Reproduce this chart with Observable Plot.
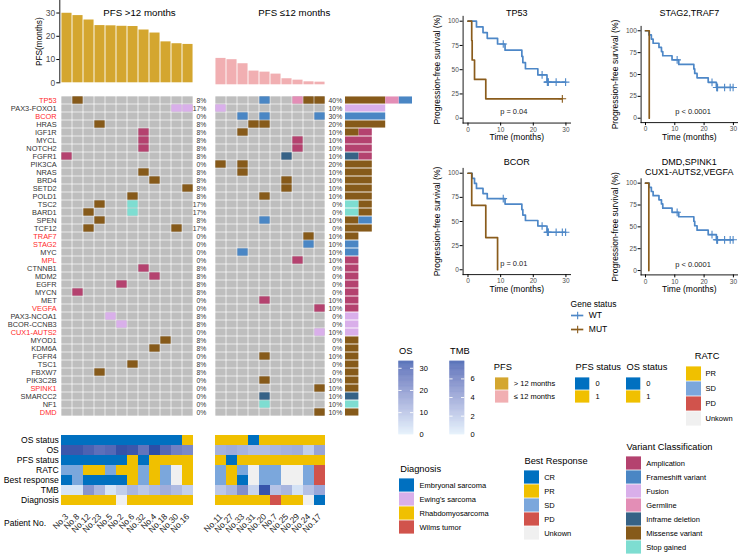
<!DOCTYPE html>
<html>
<head>
<meta charset="utf-8">
<script src="https://cdn.jsdelivr.net/npm/d3@7"></script>
<script src="https://cdn.jsdelivr.net/npm/@observablehq/plot@0.6"></script>
<style>
html,body{margin:0;padding:0;background:#fff;}
#root{position:relative;width:738px;height:557px;overflow:hidden;background:#fff;font-family:'Liberation Sans',Arial,Helvetica,sans-serif;color:#000;}
.t{position:absolute;white-space:nowrap;line-height:1;}
</style>
</head>
<body>
<div id="root"></div>
<script>
// ---------------- DATA ----------------
const patientsL = ["No.3","No.8","No.12","No.23","No.5","No.2","No.6","No.32","No.4","No.18","No.30","No.16"];
const patientsR = ["No.11","No.27","No.33","No.31","No.20","No.7","No.25","No.29","No.24","No.17"];
const pfsL = [29.9,28.9,27.0,24.6,24.5,24.3,24.2,22.7,21.4,17.6,16.8,16.5];
const pfsR = [11.35,10.8,9.06,5.9,5.45,4.6,2.6,2.0,1.28,1.14];
const pfsStatusL = [0,0,0,0,0,0,1,0,1,1,1,1];
const pfsStatusR = [1,0,1,1,1,1,1,1,1,1];
const osStatusL = [0,0,0,0,0,0,0,0,0,0,0,1];
const osStatusR = [1,1,1,0,1,1,1,1,1,1];
const osL = [31,31,28.5,25.5,27,32,31,24.5,33,27,22,20];
const osR = [12,13,11.5,9.5,9.5,11,12,12.5,6,14.5];
const tmbL = [0.5,0.5,4.2,2.6,0.5,1.5,2.6,1.8,2.4,3.0,2.3,1.4];
const tmbR = [1.8,2.6,4.5,1.2,7.5,2.0,2.6,0.6,2.1,3.3];
const ratcL = ["SD","SD","PR","PR","SD","PR","PR","SD","PR","SD","Unkown","PR"];
const ratcR = ["SD","PR","SD","Unkown","SD","SD","Unkown","Unkown","SD","PD"];
const bestL = ["CR","SD","CR","CR","CR","CR","PR","SD","PR","SD","Unkown","PR"];
const bestR = ["SD","PR","CR","Unkown","SD","SD","Unkown","Unkown","SD","PD"];
const diagL = ["Rhabdomyosarcoma","Rhabdomyosarcoma","Rhabdomyosarcoma","Rhabdomyosarcoma","Rhabdomyosarcoma","NA","Rhabdomyosarcoma","Rhabdomyosarcoma","Rhabdomyosarcoma","Rhabdomyosarcoma","Rhabdomyosarcoma","Rhabdomyosarcoma"];
const diagR = ["Rhabdomyosarcoma","Rhabdomyosarcoma","Rhabdomyosarcoma","Rhabdomyosarcoma","Rhabdomyosarcoma","Wilms tumor","Rhabdomyosarcoma","Rhabdomyosarcoma","NA","Embryonal sarcoma"];

const genes = ["TP53","PAX3-FOXO1","BCOR","HRAS","IGF1R","MYCL","NOTCH2","FGFR1","PIK3CA","NRAS","BRD4","SETD2","POLD1","TSC2","BARD1","SPEN","TCF12","TRAF7","STAG2","MYC","MPL","CTNNB1","MDM2","EGFR","MYCN","MET","VEGFA","PAX3-NCOA1","BCOR-CCNB3","CUX1-AUTS2","MYOD1","KDM6A","FGFR4","TSC1","FBXW7","PIK3C2B","SPINK1","SMARCC2","NF1","DMD"];
const redGenes = ["TP53","BCOR","TRAF7","STAG2","MPL","VEGFA","CUX1-AUTS2","SPINK1","DMD"];

const variantTypes = ["Amplication","Frameshift variant","Fusion","Germline","Inframe deletion","Missense variant","Stop gained"];
const variantColors = ["#B4426F","#4A86C4","#D9AFEA","#E38EB6","#366286","#865A1A","#7EDDD1"];
const stackOrder = ["Stop gained","Missense variant","Inframe deletion","Germline","Fusion","Frameshift variant","Amplication"];

const mutationRows = [
  ["TP53","No.8","Missense variant"],["PAX3-FOXO1","No.30","Fusion"],["PAX3-FOXO1","No.16","Fusion"],
  ["HRAS","No.23","Missense variant"],["IGF1R","No.32","Amplication"],["MYCL","No.32","Amplication"],
  ["NOTCH2","No.32","Amplication"],["FGFR1","No.3","Amplication"],["NRAS","No.32","Missense variant"],
  ["BRD4","No.4","Missense variant"],["SETD2","No.16","Missense variant"],["POLD1","No.6","Missense variant"],
  ["TSC2","No.23","Missense variant"],["TSC2","No.6","Stop gained"],["BARD1","No.12","Missense variant"],
  ["BARD1","No.6","Stop gained"],["SPEN","No.23","Missense variant"],["TCF12","No.12","Missense variant"],
  ["TCF12","No.30","Missense variant"],["CTNNB1","No.32","Amplication"],["MDM2","No.4","Amplication"],
  ["EGFR","No.2","Amplication"],["MYCN","No.8","Amplication"],["PAX3-NCOA1","No.5","Fusion"],
  ["BCOR-CCNB3","No.2","Fusion"],["MYOD1","No.18","Missense variant"],["KDM6A","No.4","Missense variant"],
  ["TSC1","No.6","Missense variant"],["FBXW7","No.23","Missense variant"],
  ["TP53","No.20","Frameshift variant"],["TP53","No.29","Germline"],["TP53","No.24","Missense variant"],
  ["TP53","No.17","Missense variant"],["PAX3-FOXO1","No.11","Fusion"],["BCOR","No.33","Frameshift variant"],
  ["BCOR","No.20","Frameshift variant"],["BCOR","No.17","Frameshift variant"],["HRAS","No.31","Missense variant"],
  ["HRAS","No.20","Missense variant"],["IGF1R","No.33","Missense variant"],["MYCL","No.29","Amplication"],
  ["NOTCH2","No.29","Amplication"],["FGFR1","No.25","Inframe deletion"],["PIK3CA","No.11","Missense variant"],
  ["PIK3CA","No.33","Missense variant"],["NRAS","No.33","Missense variant"],["BRD4","No.25","Missense variant"],
  ["SETD2","No.25","Missense variant"],["POLD1","No.20","Missense variant"],["SPEN","No.20","Frameshift variant"],
  ["TRAF7","No.24","Missense variant"],["STAG2","No.24","Frameshift variant"],["MYC","No.33","Frameshift variant"],
  ["MPL","No.29","Amplication"],["MET","No.20","Amplication"],["VEGFA","No.17","Amplication"],
  ["CUX1-AUTS2","No.17","Fusion"],["FGFR4","No.20","Missense variant"],["PIK3C2B","No.20","Missense variant"],
  ["SPINK1","No.17","Missense variant"],["SMARCC2","No.20","Inframe deletion"],["NF1","No.20","Stop gained"],
  ["DMD","No.17","Missense variant"]
];

const tracks = ["OS status","OS","PFS status","RATC","Best response","TMB","Diagnosis"];
const responseCats = ["CR","PR","SD","PD","Unkown"];
const responseColors = ["#0070C0","#F0C000","#7BA7DC","#D1534C","#F0F0F0"];
const diagCats = ["Embryonal sarcoma","Ewing's sarcoma","Rhabdomyosarcoma","Wilms tumor"];
const diagColors = ["#0070C0","#D9AFEA","#F0C000","#D1534C"];
const statusColors = ["#0070C0","#F0C000"];
const pfsGroupColors = ["#D4A62F","#F1AFB2"];
const osMax = 33.2, tmbMax = 7.9;
const rampColors = ["#E1EFFB","#2A4DA6"];
const kmColors = ["#4D87C7","#8A5C1C"];

// ---------------- HELPERS ----------------
const FONT = "'Liberation Sans', Arial, Helvetica, sans-serif";
const root = document.getElementById("root");
const baseStyle = {fontFamily: FONT, background: "transparent", overflow: "visible", color: "#000"};
const mutations = mutationRows.map(([gene, patient, type]) => ({gene, patient, type}));

function place(node, left, top) {
  node.style.position = "absolute";
  node.style.left = left + "px";
  node.style.top = top + "px";
  root.appendChild(node);
  return node;
}
function textAt(str, x, y, size, {anchor = "start", color = "#000"} = {}) {
  const d = document.createElement("div");
  d.className = "t";
  d.textContent = str;
  d.style.fontSize = size + "px";
  d.style.color = color;
  d.style.left = x + "px";
  d.style.top = y + "px";
  const tx = anchor === "middle" ? "-50%" : anchor === "end" ? "-100%" : "0";
  d.style.transform = `translate(${tx},-50%)`;
  root.appendChild(d);
}

// ---------------- TOP BARS ----------------
place(Plot.plot({
  width: 200, height: 86, marginTop: 0, marginBottom: 3.7, marginLeft: 59.3, marginRight: 6.7,
  style: baseStyle,
  x: {type: "band", domain: patientsL, range: [60.7, 193.3], padding: 0, axis: null},
  y: {domain: [0, 35], range: [82.3, 0.9], label: null},
  marks: [
    Plot.barY(patientsL.map((p, i) => ({p, v: pfsL[i]})), {x: "p", y: "v", fill: pfsGroupColors[0], insetLeft: 0.45, insetRight: 0.45}),
    Plot.frame({anchor: "left", stroke: "#000", strokeWidth: 0.9}),
    Plot.axisY({ticks: [0, 10, 20, 30], tickSize: 3, tickPadding: 1.5, fontSize: 8.5, label: null, fill: "#4d4d4d"}),
    Plot.text(["PFS(months)"], {frameAnchor: "left", dx: -20.5, rotate: -90, textAnchor: "middle", fontSize: 8.3})
  ]
}), 0, 0);

place(Plot.plot({
  width: 150, height: 86, margin: 0, style: baseStyle,
  x: {type: "band", domain: patientsR, range: [11.7, 127.7], padding: 0, axis: null},
  y: {domain: [0, 35], range: [84.3, 2.9], axis: null},
  marks: [
    Plot.barY(patientsR.map((p, i) => ({p, v: pfsR[i]})), {x: "p", y: "v", fill: pfsGroupColors[1], insetLeft: 0.45, insetRight: 0.45})
  ]
}), 200, 0);

textAt("PFS >12 months", 139.5, 12.7, 9.7, {anchor: "middle"});
textAt("PFS \u226412 months", 294.3, 12.7, 9.7, {anchor: "middle"});

// ---------------- ONCOPRINT GRIDS ----------------
function grid(patients, {left, width, ml, mr, pctDx, labels}) {
  const cells = genes.flatMap(g => patients.map(p => ({gene: g, patient: p})));
  const muts = mutations.filter(m => patients.includes(m.patient));
  const pct = genes.map(g => ({gene: g, pct: Math.round(100 * new Set(muts.filter(m => m.gene === g).map(m => m.patient)).size / patients.length) + "%"}));
  const marks = [
    Plot.cell(cells, {x: "patient", y: "gene", fill: "#BEBEBE", inset: 0.35}),
    Plot.cell(muts, {x: "patient", y: "gene", fill: "type", inset: 0.35}),
    Plot.text(pct, {y: "gene", text: "pct", frameAnchor: "right", dx: pctDx, textAnchor: "end", fontSize: 6.8, fill: "#333"})
  ];
  if (labels) {
    marks.push(Plot.text(genes.filter(g => !redGenes.includes(g)), {y: d => d, text: d => d, frameAnchor: "left", dx: -4.5, textAnchor: "end", fontSize: 7.4, fill: "#333"}));
    marks.push(Plot.text(genes.filter(g => redGenes.includes(g)), {y: d => d, text: d => d, frameAnchor: "left", dx: -4.5, textAnchor: "end", fontSize: 7.4, fill: "#FF2A2A"}));
  }
  return place(Plot.plot({
    width, height: 352, marginTop: 6.7, marginBottom: 6.5, marginLeft: ml, marginRight: mr,
    style: baseStyle,
    x: {type: "band", domain: patients, padding: 0, axis: null},
    y: {type: "band", domain: genes, padding: 0, axis: null},
    color: {domain: variantTypes, range: variantColors},
    marks
  }), left, 80);
}
grid(patientsL, {left: 0, width: 230, ml: 60.7, mr: 36.7, pctDx: 12.5, labels: true});
grid(patientsR, {left: 200, width: 150, ml: 11.7, mr: 22.3, pctDx: 14, labels: false});

// side stacked bars
const counts = d3.flatRollup(mutations, v => v.length, d => d.gene, d => d.type).map(([gene, type, n]) => ({gene, type, n}));
place(Plot.plot({
  width: 80, height: 352, marginTop: 6.7, marginBottom: 6.5, marginLeft: 5, marginRight: 8,
  style: baseStyle,
  x: {domain: [0, 5], axis: null},
  y: {type: "band", domain: genes, padding: 0, axis: null},
  color: {domain: variantTypes, range: variantColors},
  marks: [
    Plot.barX(counts, Plot.stackX({x: "n", y: "gene", fill: "type", order: stackOrder, insetTop: 0.45, insetBottom: 0.45}))
  ]
}), 340, 80);

// ---------------- ANNOTATIONS ----------------
const statusScale = Plot.scale({color: {type: "ordinal", domain: [0, 1], range: statusColors}});
const osScale = Plot.scale({color: {type: "linear", domain: [0, osMax], range: rampColors, interpolate: "lab"}});
const tmbScale = Plot.scale({color: {type: "linear", domain: [0, tmbMax], range: rampColors, interpolate: "lab"}});
const respScale = Plot.scale({color: {type: "ordinal", domain: responseCats, range: responseColors}});
const diagScale = Plot.scale({color: {type: "ordinal", domain: [...diagCats, "NA"], range: [...diagColors, "#F0F0F0"]}});

function annot(patients, d, {left, width, ml, mr, labels}) {
  const cells = patients.flatMap((p, i) => [
    {track: "OS status", p, fill: statusScale.apply(d.osS[i])},
    {track: "OS", p, fill: osScale.apply(d.os[i])},
    {track: "PFS status", p, fill: statusScale.apply(d.pfsS[i])},
    {track: "RATC", p, fill: respScale.apply(d.ratc[i])},
    {track: "Best response", p, fill: respScale.apply(d.best[i])},
    {track: "TMB", p, fill: tmbScale.apply(d.tmb[i])},
    {track: "Diagnosis", p, fill: diagScale.apply(d.diag[i])}
  ]);
  const marks = [
    Plot.cell(cells, {x: "p", y: "track", fill: "fill"}),
    Plot.axisX({tickRotate: -45, tickSize: 0, tickPadding: 7, fontSize: 8.5, label: null, fill: "#222"})
  ];
  if (labels) marks.push(Plot.text(tracks, {y: d => d, text: d => d, frameAnchor: "left", dx: -2.4, textAnchor: "end", fontSize: 8.6}));
  return place(Plot.plot({
    width, height: 132, marginTop: 7.3, marginBottom: 49.3, marginLeft: ml, marginRight: mr,
    style: baseStyle,
    x: {type: "band", domain: patients, padding: 0, label: null},
    y: {type: "band", domain: tracks, padding: 0, axis: null},
    color: {type: "identity"},
    marks
  }), left, 425);
}
annot(patientsL, {osS: osStatusL, os: osL, pfsS: pfsStatusL, ratc: ratcL, best: bestL, tmb: tmbL, diag: diagL}, {left: 0, width: 200, ml: 60.7, mr: 6.7, labels: true});
annot(patientsR, {osS: osStatusR, os: osR, pfsS: pfsStatusR, ratc: ratcR, best: bestR, tmb: tmbR, diag: diagR}, {left: 200, width: 150, ml: 11.7, mr: 22.3, labels: false});
textAt("Patient No.", 4, 522.7, 8.5);

// ---------------- KAPLAN-MEIER ----------------
const allPatients = [...patientsL, ...patientsR];
const allPfs = [...pfsL, ...pfsR];
const allStatus = [...pfsStatusL, ...pfsStatusR];

function km(times, status) {
  const idx = d3.range(times.length);
  const uniq = Array.from(new Set(times)).sort((a, b) => a - b);
  let n = times.length, S = 1;
  const steps = [{t: 0, s: 100}], cens = [];
  for (const t of uniq) {
    const at = idx.filter(i => times[i] === t);
    const d = at.filter(i => status[i] === 1).length;
    if (d > 0) { S *= (1 - d / n); steps.push({t, s: S * 100}); }
    if (at.length - d > 0) cens.push({t, s: S * 100});
    n -= at.length;
  }
  steps.push({t: d3.max(times), s: S * 100});
  return {steps, cens};
}

function kmPanel({left, top, width, height, ml, mr, mt, mb, sel, titles, pval, pdx, pdy}) {
  const mutSet = new Set(mutations.filter(m => sel.includes(m.gene)).map(m => m.patient));
  const groups = {WT: {t: [], s: []}, MUT: {t: [], s: []}};
  allPatients.forEach((p, i) => { const g = mutSet.has(p) ? "MUT" : "WT"; groups[g].t.push(allPfs[i]); groups[g].s.push(allStatus[i]); });
  const steps = [], cens = [];
  for (const g of ["WT", "MUT"]) {
    const r = km(groups[g].t, groups[g].s);
    r.steps.forEach(d => steps.push({...d, g}));
    r.cens.forEach(d => cens.push({...d, g}));
  }
  const marks = [
    Plot.frame({anchor: "left", stroke: "#000", strokeWidth: 0.9}),
    Plot.frame({anchor: "bottom", stroke: "#000", strokeWidth: 0.9}),
    Plot.axisX({ticks: [0, 10, 20, 30], tickSize: 3, tickPadding: 1.2, fontSize: 6.5, label: null, fill: "#4d4d4d"}),
    Plot.axisY({ticks: [0, 25, 50, 75, 100], tickSize: 3, tickPadding: 1.3, fontSize: 6.5, label: null, fill: "#4d4d4d"}),
    Plot.line(steps, {x: "t", y: "s", stroke: "g", curve: "step-after", strokeWidth: 1.7}),
    Plot.dot(cens, {x: "t", y: "s", stroke: "g", symbol: "plus", r: 2.6, strokeWidth: 1.1, fill: "none"}),
    Plot.text(["Time (months)"], {frameAnchor: "bottom", dy: 17, fontSize: 8.5}),
    Plot.text(["Progression-free survival (%)"], {frameAnchor: "left", dx: -25.6, rotate: -90, textAnchor: "middle", fontSize: 8.5}),
    Plot.text([pval], {frameAnchor: "bottom", dx: pdx, dy: pdy, fontSize: 7.5, fill: "#222"})
  ];
  titles.forEach(([txt, dy]) => marks.push(Plot.text([txt], {frameAnchor: "top", dy, fontSize: 9})));
  return place(Plot.plot({
    width, height, marginLeft: ml, marginRight: mr, marginTop: mt, marginBottom: mb,
    style: baseStyle,
    x: {domain: [-1.5, 31.4]},
    y: {domain: [-5, 105]},
    color: {domain: ["WT", "MUT"], range: kmColors},
    marks
  }), left, top);
}
kmPanel({left: 380, top: 0, width: 200, height: 150, ml: 82.6, mr: 10, mt: 15.85, mb: 27.45, sel: ["TP53"], titles: [["TP53", -6.85]], pval: "p = 0.04", pdx: -3, pdy: -9.3});
kmPanel({left: 560, top: 0, width: 178, height: 150, ml: 80.6, mr: 1, mt: 25.9, mb: 27.9, sel: ["STAG2", "TRAF7"], titles: [["STAG2,TRAF7", -16.9]], pval: "p < 0.0001", pdx: 3.7, pdy: -8.8});
kmPanel({left: 380, top: 140, width: 200, height: 160, ml: 82.6, mr: 10, mt: 27.9, mb: 25.9, sel: ["BCOR"], titles: [["BCOR", -9.6]], pval: "p = 0.01", pdx: -3, pdy: -8.4});
kmPanel({left: 560, top: 140, width: 178, height: 160, ml: 80.6, mr: 1, mt: 38.3, mb: 25.6, sel: ["DMD", "SPINK1", "CUX1-AUTS2", "VEGFA"], titles: [["DMD,SPINK1", -20], ["CUX1-AUTS2,VEGFA", -10]], pval: "p < 0.0001", pdx: 3.7, pdy: -8.4});

// Gene status legend
const geneStatus = ["WT", "MUT"];
place(Plot.plot({
  width: 80, height: 50, marginTop: 17, marginBottom: 3.6, marginLeft: 0, marginRight: 14,
  style: baseStyle,
  x: {domain: [0, 1], range: [11, 23.3], axis: null},
  y: {type: "band", domain: geneStatus, range: [17, 46.4], padding: 0, axis: null},
  color: {domain: geneStatus, range: kmColors},
  marks: [
    Plot.ruleY(geneStatus, {y: d => d, x1: () => 0, x2: () => 1, stroke: d => d, strokeWidth: 1.7}),
    Plot.dot(geneStatus, {y: d => d, x: () => 0.5, stroke: d => d, symbol: "plus", r: 2.6, strokeWidth: 1.1, fill: "none"}),
    Plot.text(geneStatus, {y: d => d, x: () => 1, dx: 5, text: d => d, textAnchor: "start", fontSize: 8.5}),
    Plot.text(["Gene status"], {frameAnchor: "top", dy: -6.3, fontSize: 8.5})
  ]
}), 560, 290);

// ---------------- LEGENDS ----------------
function colorbar({left, max, ticks, title}) {
  const step = max / 160;
  const stops = d3.range(0, max, step);
  place(Plot.plot({
    width: 50, height: 95, marginTop: 10.7, marginBottom: 10.7, marginLeft: 8.3, marginRight: 26.7,
    style: baseStyle,
    x: {domain: [0, 1], axis: null},
    y: {domain: [0, max]},
    color: {type: "linear", domain: [0, max], range: rampColors, interpolate: "lab"},
    marks: [
      Plot.rect(stops, {x1: () => 0, x2: () => 1, y1: d => d, y2: d => Math.min(max, d + step * 1.1), fill: d => d + step / 2}),
      Plot.ruleY(ticks.filter(t => t > 0), {x1: () => 0, x2: () => 0.22, stroke: "white", strokeWidth: 0.9}),
      Plot.ruleY(ticks.filter(t => t > 0), {x1: () => 0.78, x2: () => 1, stroke: "white", strokeWidth: 0.9}),
      Plot.axisY({anchor: "right", ticks, tickSize: 0, tickPadding: 5.7, fontSize: 7.5, label: null})
    ]
  }), left - 8.3, 350);
  textAt(title, left + 0.7, 351.7, 9.3);
}
colorbar({left: 398.3, max: osMax, ticks: [0, 10, 20, 30], title: "OS"});
colorbar({left: 449.3, max: tmbMax, ticks: [0, 2, 4, 6], title: "TMB"});

function swatchLegend({left, top, title, items, colors, labels = items, sw, sh, gap, titleDx = 0, titleDy}) {
  const n = items.length;
  place(Plot.plot({
    width: 140, height: 22 + sh * n + 4, margin: 0,
    style: baseStyle,
    x: {domain: [0, 1], range: [5, 5 + sw], axis: null},
    y: {type: "band", domain: items, range: [22, 22 + sh * n], padding: 0, axis: null},
    color: {domain: items, range: colors},
    marks: [
      Plot.barX(items, {x1: () => 0, x2: () => 1, y: d => d, fill: d => d, insetTop: 0.4, insetBottom: 0.4}),
      Plot.text(items, {x: () => 1, y: d => d, dx: gap, text: (d, i) => labels[i], textAnchor: "start", fontSize: 7.5}),
      Plot.text([title], {x: () => 0, y: () => items[0], dx: titleDx, dy: titleDy, textAnchor: "start", fontSize: 9.3})
    ]
  }), left - 5, top - 22);
}
swatchLegend({left: 495, top: 376, title: "PFS", items: ["> 12 months", "\u2264 12 months"], colors: pfsGroupColors, sw: 13.3, sh: 13.5, gap: 5, titleDx: -1.7, titleDy: -16.75});
swatchLegend({left: 575, top: 376, title: "PFS status", items: ["0", "1"], colors: statusColors, sw: 14.3, sh: 13.5, gap: 5.7, titleDy: -16.75});
swatchLegend({left: 626, top: 376, title: "OS status", items: ["0", "1"], colors: statusColors, sw: 14.3, sh: 13.5, gap: 5.4, titleDy: -16.75});
swatchLegend({left: 686, top: 366, title: "RATC", items: ["PR", "SD", "PD", "Unkown"], colors: [responseColors[1], responseColors[2], responseColors[3], responseColors[4]], sw: 15, sh: 15, gap: 4, titleDx: 8.3, titleDy: -17.5});
swatchLegend({left: 399.3, top: 476, title: "Diagnosis", items: diagCats, colors: diagColors, sw: 15, sh: 14.75, gap: 5, titleDx: 0.7, titleDy: -16.7});
swatchLegend({left: 524.3, top: 468.3, title: "Best Response", items: responseCats, colors: responseColors, sw: 15, sh: 14.9, gap: 4.7, titleDy: -16.45});
swatchLegend({left: 626, top: 452.7, title: "Variant Classification", items: variantTypes, colors: variantColors, sw: 15, sh: 14.9, gap: 4.7, titleDy: -16.9});
</script>
</body>
</html>
